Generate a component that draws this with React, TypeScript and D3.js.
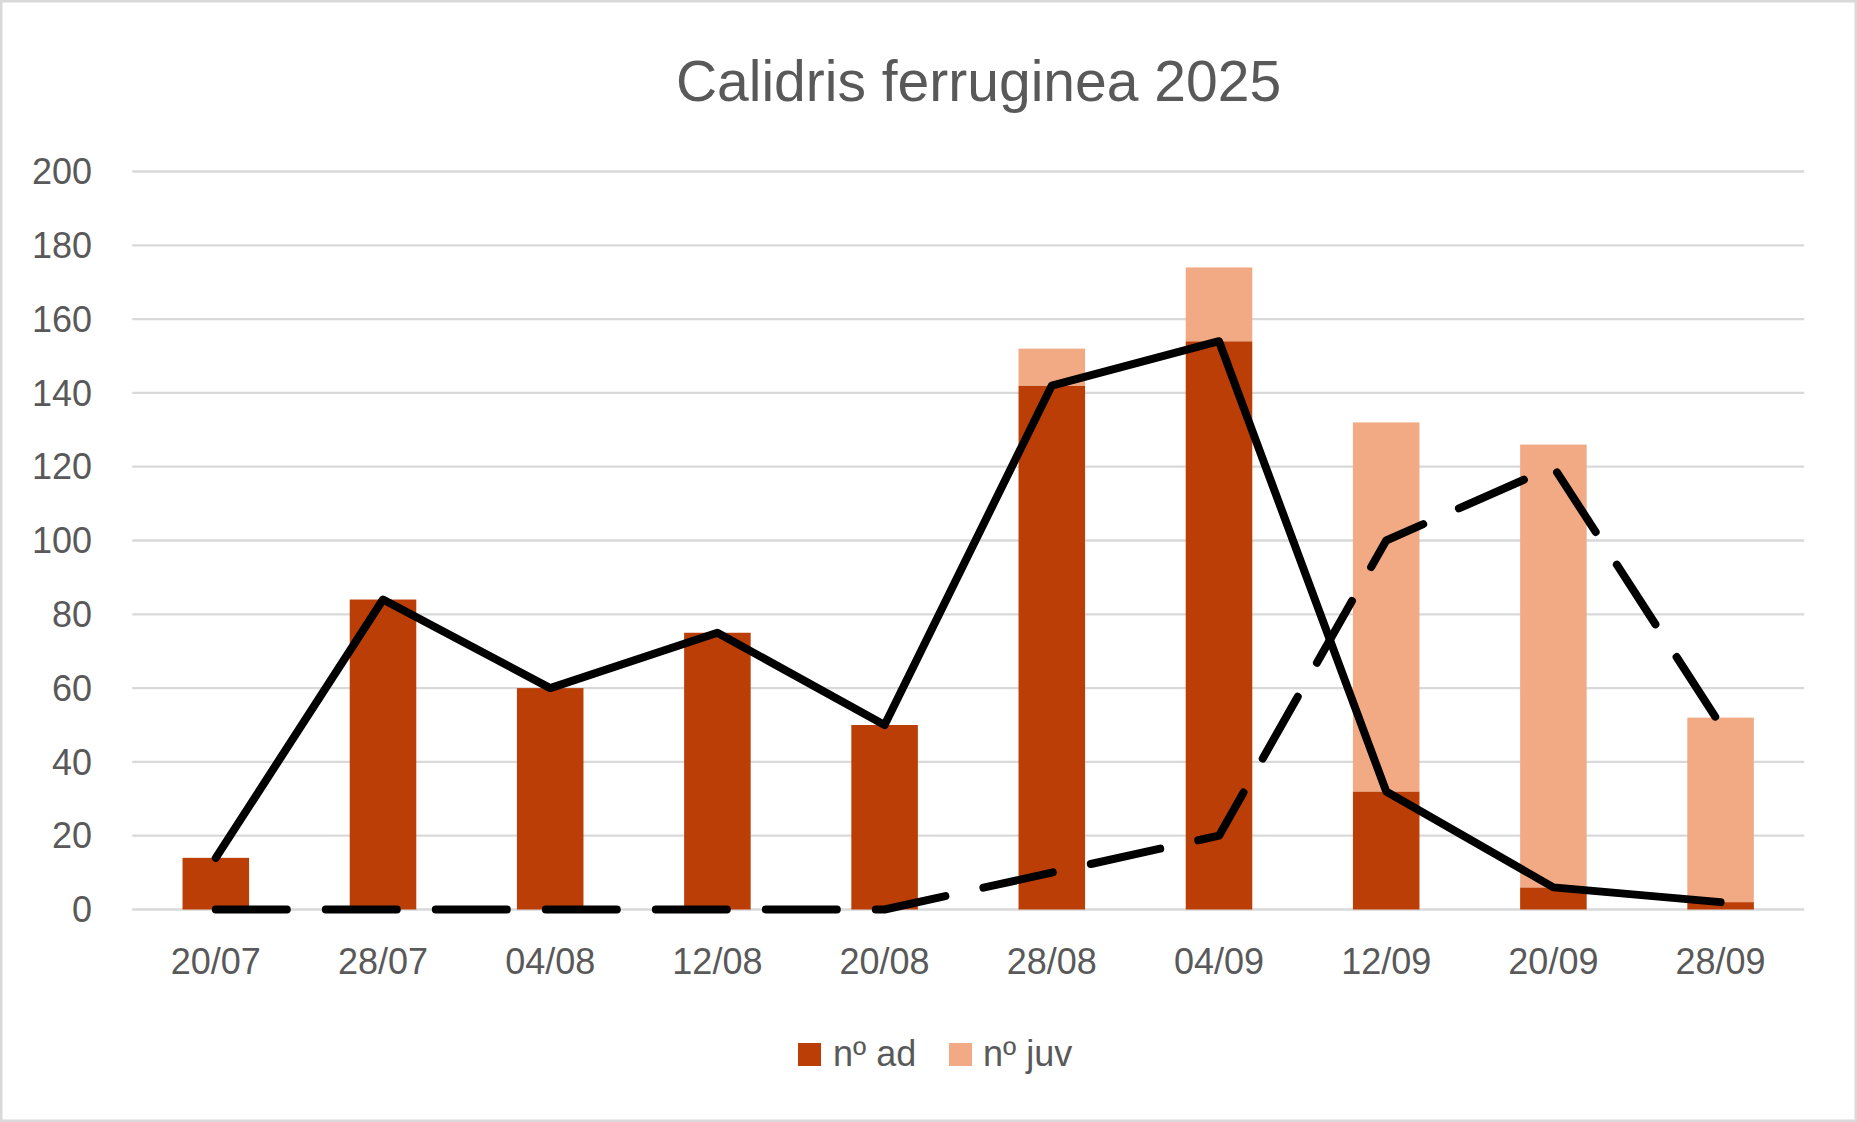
import React from 'react';
import * as d3 from 'd3';

// survey dates and counts
const dates = ['20/07', '28/07', '04/08', '12/08', '20/08', '28/08', '04/09', '12/09', '20/09', '28/09'];
const adults = [14, 84, 60, 75, 50, 142, 154, 32, 6, 2];
const juveniles = [0, 0, 0, 0, 0, 10, 20, 100, 120, 50];
const yTicks = [0, 20, 40, 60, 80, 100, 120, 140, 160, 180, 200];

const W = 1857;
const H = 1122;
const left = 132.2;
const right = 1804.2;
const top = 171.5;
const bottom = 909.5;

const DARK = '#BA3E06';
const LIGHT = '#F1AA84';
const TEXT = '#595959';
const GRID = '#D9D9D9';
const FONT = '"Liberation Sans", Arial, sans-serif';

const App: React.FC = () => {
    const x = d3.scaleBand<string>().domain(dates).range([left, right]).paddingInner(0).paddingOuter(0);
    const y = d3.scaleLinear().domain([0, 200]).range([bottom, top]);
    const barW = x.bandwidth() * 0.398;
    const cx = (d: string) => (x(d) ?? 0) + x.bandwidth() / 2;

    const line = d3.line<number>()
        .x((_, i) => cx(dates[i]))
        .y(v => y(v));

    return (
        <div style={{ position: 'absolute', left: 0, top: 0 }}>
            <svg width={W} height={H} style={{ display: 'block', fontFamily: FONT }}>
                <rect x={0} y={0} width={W} height={H} fill="#fff" />
                <rect x={1.25} y={1.25} width={W - 2.5} height={H - 2.5} fill="none" stroke={GRID} strokeWidth={2.5} />

                <text x={978.5} y={101} textAnchor="middle" fontSize={57} fill={TEXT}>
                    Calidris ferruginea 2025
                </text>

                {/* gridlines and y labels */}
                {yTicks.map(t => (
                    <g key={t}>
                        <line x1={left} x2={right} y1={y(t)} y2={y(t)} stroke={GRID} strokeWidth={2.3} />
                        <text x={92} y={y(t)} dy="0.35em" textAnchor="end" fontSize={36} fill={TEXT}>{t}</text>
                    </g>
                ))}

                {/* stacked bars */}
                {dates.map((d, i) => (
                    <g key={d}>
                        <rect x={cx(d) - barW / 2} y={y(adults[i])} width={barW} height={bottom - y(adults[i])} fill={DARK} />
                        {juveniles[i] > 0 && (
                            <rect x={cx(d) - barW / 2} y={y(adults[i] + juveniles[i])} width={barW}
                                height={y(adults[i]) - y(adults[i] + juveniles[i])} fill={LIGHT} />
                        )}
                        <text x={cx(d)} y={974} textAnchor="middle" fontSize={36} fill={TEXT}>{d}</text>
                    </g>
                ))}

                {/* lines */}
                <path d={line(adults) ?? ''} fill="none" stroke="#000" strokeWidth={8} strokeLinejoin="round" strokeLinecap="round" />
                <path d={line(juveniles) ?? ''} fill="none" stroke="#000" strokeWidth={8} strokeLinejoin="round"
                    strokeLinecap="round" strokeDasharray="71 39" />

                {/* legend */}
                <rect x={798} y={1043} width={23} height={23} fill={DARK} />
                <text x={833} y={1066} fontSize={36} fill={TEXT}>nº ad</text>
                <rect x={949} y={1043} width={23} height={23} fill={LIGHT} />
                <text x={983} y={1066} fontSize={36} fill={TEXT}>nº juv</text>
            </svg>
        </div>
    );
};

export default App;
